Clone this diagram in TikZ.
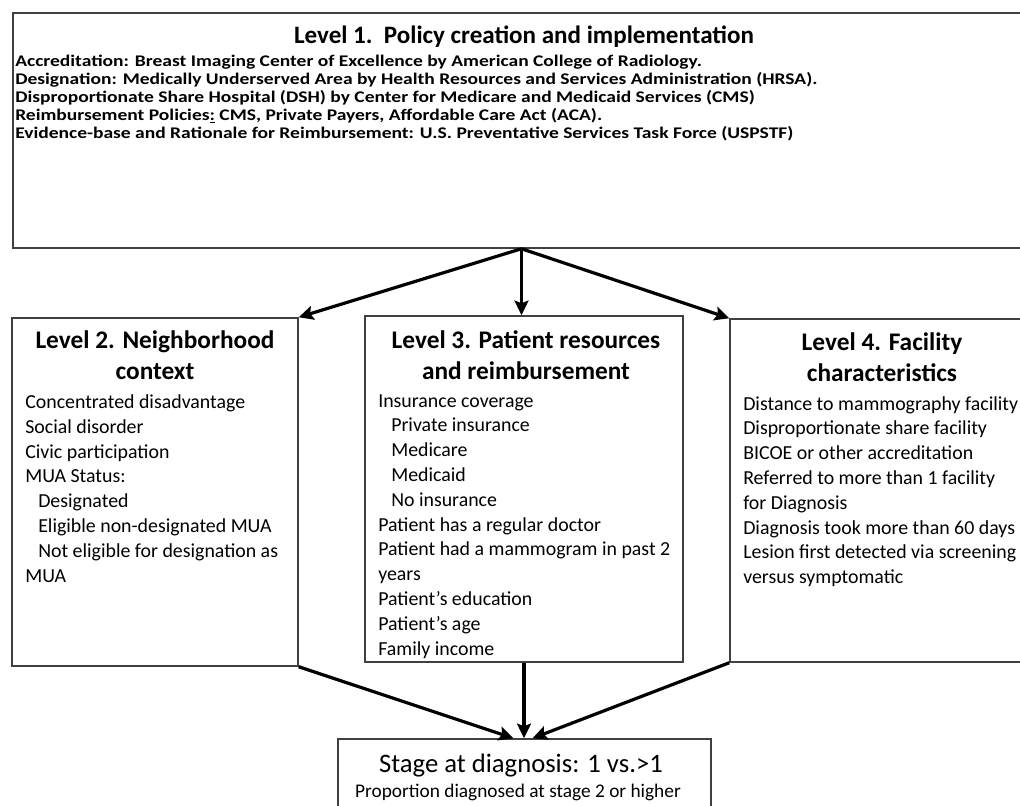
\documentclass[tikz,border=0pt]{standalone}
\usepackage{fontspec}
\setmainfont{Carlito}
\usetikzlibrary{arrows.meta,fit,calc}
\begin{document}
\begin{tikzpicture}[x=0.75pt,y=-0.75pt,
  box/.style={draw=black!75, line width=1.1pt, inner sep=0pt},
  arr/.style={line width=2.4pt, -{Stealth[length=11pt,width=10.5pt,inset=2pt]}},
  ttl/.style={inner sep=0pt, align=center, font=\bfseries\fontsize{19}{23.5}\selectfont},
  bdy/.style={inner sep=0pt, align=left, anchor=north west, font=\fontsize{14.9}{18.6}\selectfont}]
\useasboundingbox (0,0) rectangle (1020,806);
\clip (0,0) rectangle (1020,806);
% boxes
\node[box, fit={(13,13) (1030,248)}] (L1) {};
\node[box, fit={(12,318) (298,666)}] (L2) {};
\node[box, fit={(365,316) (683,662)}] (L3) {};
\node[box, fit={(730,319) (1030,662)}] (L4) {};
\node[box, fit={(338,739) (711,815)}] (S) {};
% level 1 text
\node[ttl, anchor=north, font=\bfseries\fontsize{18.8}{22}\selectfont] (t1) at (524,25.5) {Level 1.\ \ Policy creation and implementation};
\node[inner sep=0pt, anchor=north west, align=left, font=\bfseries\fontsize{12.2}{13.5}\selectfont\addfontfeature{FakeStretch=1.2}] (b1) at (15,55)
{Accreditation: Breast Imaging Center of Excellence by American College of Radiology.\\
Designation: Medically Underserved Area by Health Resources and Services Administration (HRSA).\\
Disproportionate Share Hospital (DSH) by Center for Medicare and Medicaid Services (CMS)\\
Reimbursement Policies\underline{:} CMS, Private Payers, Affordable Care Act (ACA).\\
Evidence-base and Rationale for Reimbursement: U.S. Preventative Services Task Force (USPSTF)};
% level 2
\node[ttl, anchor=north] (t2) at (155,330) {Level 2. Neighborhood\\context};
\node[bdy] (b2) at (25,394.5)
{Concentrated disadvantage\\
Social disorder\\
Civic participation\\
MUA Status:\\
\hspace*{9.75pt}Designated\\
\hspace*{9.75pt}Eligible non-designated MUA\\
\hspace*{9.75pt}Not eligible for designation as\\
MUA};
% level 3
\node[ttl, anchor=north] (t3) at (526,330) {Level 3. Patient resources\\and reimbursement};
\node[bdy] (b3) at (378,394)
{Insurance coverage\\
\hspace*{9.75pt}Private insurance\\
\hspace*{9.75pt}Medicare\\
\hspace*{9.75pt}Medicaid\\
\hspace*{9.75pt}No insurance\\
Patient has a regular doctor\\
Patient had a mammogram in past 2\\
years\\
Patient’s education\\
Patient’s age\\
Family income};
% level 4
\node[ttl, anchor=north] (t4) at (882,332) {Level 4. Facility\\characteristics};
\node[bdy] (b4) at (743,396)
{Distance to mammography facility\\
Disproportionate share facility\\
BICOE or other accreditation\\
Referred to more than 1 facility\\
for Diagnosis\\
Diagnosis took more than 60 days\\
Lesion first detected via screening\\
versus symptomatic};
% stage
\node[inner sep=0pt, anchor=north, font=\fontsize{20}{22}\selectfont] (st) at (521,754) {Stage at diagnosis: 1 vs.>1};
\node[inner sep=0pt, anchor=north, font=\fontsize{14.5}{16}\selectfont] (sp) at (518,784) {Proportion diagnosed at stage 2 or higher};
% arrows
\coordinate (hub) at (L1.south);
\draw[arr] (hub) -- (L2.north east);
\draw[arr] (hub) -- (hub |- L3.north);
\draw[arr] (hub) -- (L4.north west);
\draw[arr] (L2.south east) -- ($(S.north)+(-11,0)$);
\draw[arr] (L3.south) -- (L3.south |- S.north);
\draw[arr] (L4.south west) -- ($(S.north)+(8,0)$);
\end{tikzpicture}
\end{document}
